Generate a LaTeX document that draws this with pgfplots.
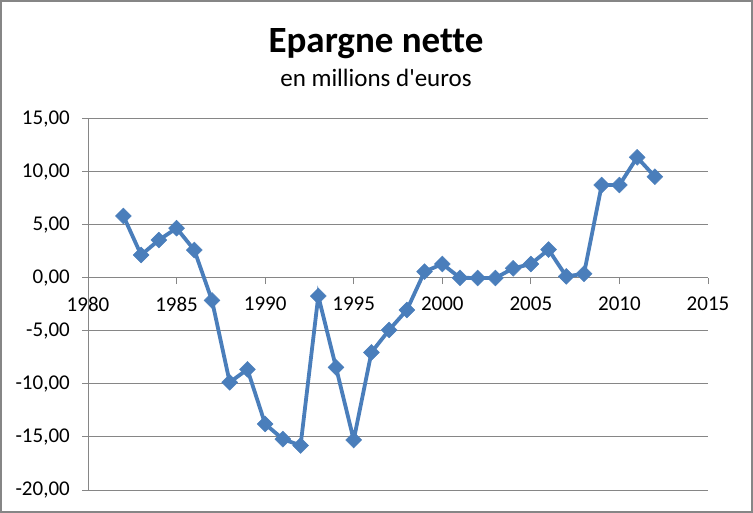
\documentclass[border=0pt]{standalone}
\usepackage{pgfplots}
\pgfplotsset{compat=1.18}
\usepackage{fontspec}
\setmainfont[Ligatures={NoCommon}]{Carlito}
\definecolor{exblue}{RGB}{74,126,187}
\definecolor{exgray}{RGB}{134,134,134}
\begin{document}
\begin{tikzpicture}[x=1bp,y=1bp]
\begin{axis}[
  at={(0,0)}, anchor=south west,
  width=620bp, height=371bp, scale only axis,
  xmin=1980, xmax=2015, ymin=-20, ymax=15,
  axis x line*=middle, axis y line*=left,
  hide obscured x ticks=false,
  axis line style={exgray, line width=1bp},
  xtick={1980,1985,...,2015},
  ytick={-20,-15,...,15},
  ymajorgrids,
  grid style={exgray, line width=1bp},
  tick style={exgray, line width=1bp},
  tick align=outside,
  major tick length=6bp,
  /pgf/number format/assume math mode=true,
  xticklabel style={font=\fontsize{21bp}{24bp}\selectfont, anchor=north, inner sep=0pt, yshift=-13bp,
    /pgf/number format/1000 sep={}},
  yticklabel style={font=\fontsize{21bp}{24bp}\selectfont, anchor=east, inner sep=0pt, xshift=-12bp,
    /pgf/number format/.cd, fixed, fixed zerofill, precision=2, use comma, 1000 sep={}},
  clip=false,
]
\addplot[exblue, line width=3.8bp, mark=square*, mark size=5.6bp,
  mark options={rotate=45, fill=exblue, draw=exblue, line width=0.5bp}] coordinates {
(1982,5.85) (1983,2.17) (1984,3.58) (1985,4.70) (1986,2.64) (1987,-2.12)
(1988,-9.84) (1989,-8.62) (1990,-13.77) (1991,-15.20) (1992,-15.80)
(1993,-1.70) (1994,-8.43) (1995,-15.28) (1996,-7.02) (1997,-4.90)
(1998,-3.02) (1999,0.60) (2000,1.32) (2001,0.02) (2002,0.00) (2003,0.00)
(2004,0.91) (2005,1.32) (2006,2.68) (2007,0.15) (2008,0.40) (2009,8.77)
(2010,8.77) (2011,11.38) (2012,9.56)
};
\end{axis}
\node[anchor=base, inner sep=0pt, font=\fontsize{37bp}{40bp}\selectfont\bfseries] at (288bp,437bp) {Epargne nette};
\node[anchor=base, inner sep=0pt, font=\fontsize{25bp}{28bp}\selectfont] at (288bp,403bp) {en millions d\textquotesingle euros};
\draw[exgray, line width=2bp] (-87bp,-22bp) rectangle (664bp,489bp);
\pgfresetboundingbox
\useasboundingbox (-88bp,-23bp) rectangle (665bp,490bp);
\end{tikzpicture}
\end{document}
